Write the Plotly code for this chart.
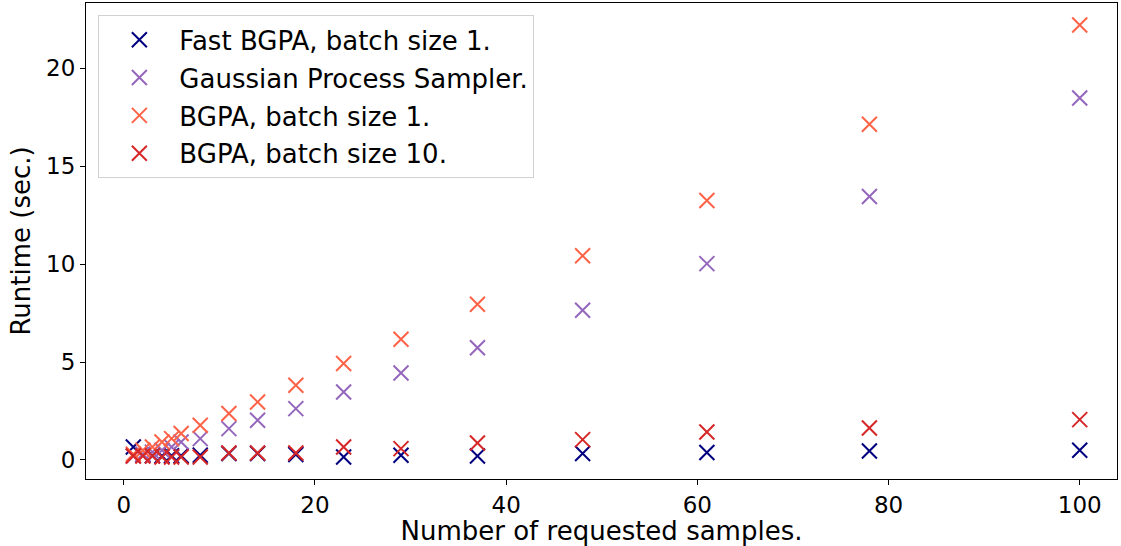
import plotly.graph_objects as go

samples = [1, 2, 3, 4, 5, 6, 8, 11, 14, 18, 23, 29, 37, 48, 61, 78, 100]

fast_bgpa_b1 = [0.66, 0.25, 0.22, 0.2, 0.22, 0.22, 0.25, 0.33, 0.33, 0.28, 0.15, 0.24, 0.2, 0.33, 0.38, 0.46, 0.5]
gp_sampler = [0.2, 0.3, 0.4, 0.5, 0.66, 0.92, 1.09, 1.6, 2.03, 2.62, 3.47, 4.44, 5.73, 7.64, 10.02, 13.45, 18.47]
bgpa_b1 = [0.3, 0.5, 0.66, 0.92, 1.09, 1.35, 1.77, 2.37, 2.96, 3.81, 4.92, 6.16, 7.95, 10.42, 13.24, 17.13, 22.2]
bgpa_b10 = [0.2, 0.2, 0.2, 0.15, 0.15, 0.15, 0.15, 0.36, 0.36, 0.36, 0.66, 0.58, 0.87, 1.04, 1.43, 1.63, 2.06]

series = [
    ("Fast BGPA, batch size 1.", fast_bgpa_b1, "#000080"),
    ("Gaussian Process Sampler.", gp_sampler, "#9467BD"),
    ("BGPA, batch size 1.", bgpa_b1, "#FF6347"),
    ("BGPA, batch size 10.", bgpa_b10, "#D62728"),
]

fig = go.Figure()
for i, (name, ys, col) in enumerate(series):
    fig.add_trace(go.Scatter(
        x=samples, y=ys, mode="markers", name=name,
        legendgroup=f"g{i}",
        marker=dict(symbol="x-thin", size=15, color=col,
                    line=dict(color=col, width=2)),
    ))

font = "DejaVu Sans, Arial, sans-serif"
fig.update_layout(
    width=1121, height=546,
    margin=dict(l=86, r=4, t=3, b=67, autoexpand=False),
    paper_bgcolor="white", plot_bgcolor="white",
    font=dict(family=font, size=22, color="black"),
    showlegend=True,
    legend=dict(
        x=0.012, y=0.974, xanchor="left", yanchor="top",
        bgcolor="rgba(255,255,255,0.8)", bordercolor="#d0d0d0", borderwidth=1,
        font=dict(family=font, size=26, color="black"),
        tracegroupgap=1,
        itemwidth=70,
    ),
    xaxis=dict(
        range=[-3.95, 103.9], tickvals=[0, 20, 40, 60, 80, 100],
        showgrid=False, zeroline=False, showline=True, linecolor="black",
        linewidth=1, mirror=True, ticks="outside", ticklen=5, tickcolor="black",
        title=dict(text="Number of requested samples.", standoff=2),
        tickfont=dict(size=23), automargin=False,
    ),
    yaxis=dict(
        range=[-0.97, 23.32], tickvals=[0, 5, 10, 15, 20],
        showgrid=False, zeroline=False, showline=True, linecolor="black",
        linewidth=1, mirror=True, ticks="outside", ticklen=5, tickcolor="black",
        title=dict(text="Runtime (sec.)", standoff=8),
        tickfont=dict(size=23), automargin=False,
    ),
)

fig.write_html(
    "out.html",
    config={"displayModeBar": False},
    post_script="document.body.style.margin='0';document.body.style.overflow='hidden';",
)
